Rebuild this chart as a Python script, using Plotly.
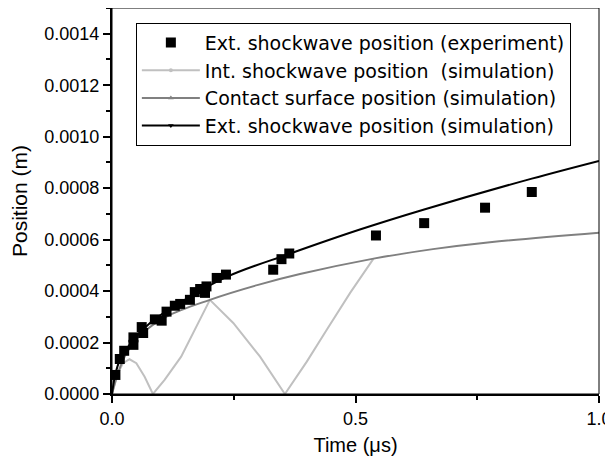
import plotly.graph_objects as go

# Experimental external shockwave position
exp_t = [0.007, 0.016, 0.025, 0.044, 0.044, 0.061, 0.064, 0.088, 0.102, 0.112, 0.129, 0.140,
         0.160, 0.170, 0.181, 0.191, 0.194, 0.215, 0.234, 0.331, 0.348, 0.364, 0.542, 0.641,
         0.766, 0.862]
exp_pos = [7.4e-5, 1.36e-4, 1.68e-4, 2.2e-4, 1.91e-4, 2.6e-4, 2.37e-4, 2.9e-4, 2.85e-4, 3.2e-4,
           3.43e-4, 3.5e-4, 3.66e-4, 3.96e-4, 4.08e-4, 3.93e-4, 4.18e-4, 4.51e-4, 4.64e-4,
           4.83e-4, 5.24e-4, 5.46e-4, 6.16e-4, 6.64e-4, 7.24e-4, 7.85e-4]

# Internal shockwave position (simulation)
int_t = [0, 0.0123, 0.0226, 0.036, 0.050, 0.067, 0.084, 0.108, 0.142, 0.177, 0.201, 0.249,
         0.304, 0.355, 0.400, 0.441, 0.489, 0.537]
int_pos = [0, 8.1e-5, 1.2e-4, 1.35e-4, 1.2e-4, 6.7e-5, 0, 5.5e-5, 1.45e-4, 2.76e-4, 3.66e-4,
           2.76e-4, 1.45e-4, 0, 1.26e-4, 2.5e-4, 3.93e-4, 5.26e-4]

# Contact surface position (simulation)
cs_t = [0, 0.003, 0.013, 0.030, 0.0575, 0.112, 0.201, 0.300, 0.386, 0.537, 0.659, 0.776, 1.0]
cs_pos = [0, 2.2e-5, 8.6e-5, 1.59e-4, 2.28e-4, 3.01e-4, 3.66e-4, 4.24e-4, 4.66e-4, 5.26e-4,
          5.63e-4, 5.9e-4, 6.27e-4]

# External shockwave position (simulation)
ext_t = [0, 0.006, 0.0164, 0.044, 0.078, 0.133, 0.2355, 0.365, 0.509, 0.641, 0.862, 1.0]
ext_pos = [0, 6.9e-5, 1.33e-4, 2.1e-4, 2.76e-4, 3.47e-4, 4.55e-4, 5.45e-4, 6.39e-4,
           7.17e-4, 8.37e-4, 9.06e-4]

names = ["Ext. shockwave position (experiment)",
         "Int. shockwave position  (simulation)",
         "Contact surface position (simulation)",
         "Ext. shockwave position (simulation)"]

LIGHT = "#c0c0c0"
MID = "#808080"
FONT = "Liberation Sans, Arial, sans-serif"

fig = go.Figure()

fig.add_trace(go.Scatter(x=int_t, y=int_pos, mode="lines", line=dict(color=LIGHT, width=2),
                         showlegend=False))
fig.add_trace(go.Scatter(x=cs_t, y=cs_pos, mode="lines",
                         line=dict(color=MID, width=2, shape="spline", smoothing=1.0),
                         showlegend=False))
fig.add_trace(go.Scatter(x=ext_t, y=ext_pos, mode="lines",
                         line=dict(color="black", width=2, shape="spline", smoothing=1.0),
                         showlegend=False))
fig.add_trace(go.Scatter(x=exp_t, y=exp_pos, mode="markers",
                         marker=dict(symbol="square", size=10, color="black"), showlegend=False))

# legend entries
fig.add_trace(go.Scatter(x=[None], y=[None], mode="markers", name=names[0],
                         marker=dict(symbol="square", size=10, color="black")))
fig.add_trace(go.Scatter(x=[None], y=[None], mode="lines+markers", name=names[1],
                         line=dict(color=LIGHT, width=2), marker=dict(symbol="circle", size=4, color=LIGHT)))
fig.add_trace(go.Scatter(x=[None], y=[None], mode="lines+markers", name=names[2],
                         line=dict(color=MID, width=2), marker=dict(symbol="triangle-up", size=5, color=MID)))
fig.add_trace(go.Scatter(x=[None], y=[None], mode="lines+markers", name=names[3],
                         line=dict(color="black", width=2), marker=dict(symbol="triangle-down", size=5, color="black")))

fig.update_layout(
    width=605, height=448,
    margin=dict(l=104, r=14, t=0, b=62, autoexpand=False),
    paper_bgcolor="white", plot_bgcolor="white",
    font=dict(family=FONT, size=18, color="black"),
    legend=dict(x=0.049, y=0.962, xanchor="left", yanchor="top",
                bordercolor="black", borderwidth=1, bgcolor="white",
                font=dict(size=19, family="DejaVu Sans, sans-serif"), itemwidth=58, tracegroupgap=0),
    shapes=[dict(type="rect", xref="paper", yref="paper", x0=0, y0=0, x1=1, y1=1,
                 line=dict(color="black", width=1), layer="above")],
)

fig.update_xaxes(range=[0, 1.0], tick0=0, dtick=0.5, tickformat=".1f", automargin=False,
                 showline=True, linecolor="black", linewidth=2, mirror=False,
                 ticks="outside", ticklen=7, tickwidth=1.5, tickcolor="black",
                 minor=dict(dtick=0.25, ticks="outside", ticklen=4, tickwidth=1.5, tickcolor="black"),
                 showgrid=False, zeroline=False,
                 title=dict(text="Time (\u03bcs)", font=dict(size=20), standoff=16),
                 tickfont=dict(size=18))
fig.update_yaxes(range=[0, 0.0015], tick0=0, dtick=0.0002, tickformat=".4f", automargin=False,
                 showline=True, linecolor="black", linewidth=2, mirror=False,
                 ticks="outside", ticklen=7, tickwidth=1.5, tickcolor="black",
                 minor=dict(dtick=0.0001, ticks="outside", ticklen=4, tickwidth=1.5, tickcolor="black"),
                 showgrid=False, zeroline=False,
                 title=dict(text="Position (m)", font=dict(size=21), standoff=12),
                 tickfont=dict(size=18))

fig.write_html("out.html")
